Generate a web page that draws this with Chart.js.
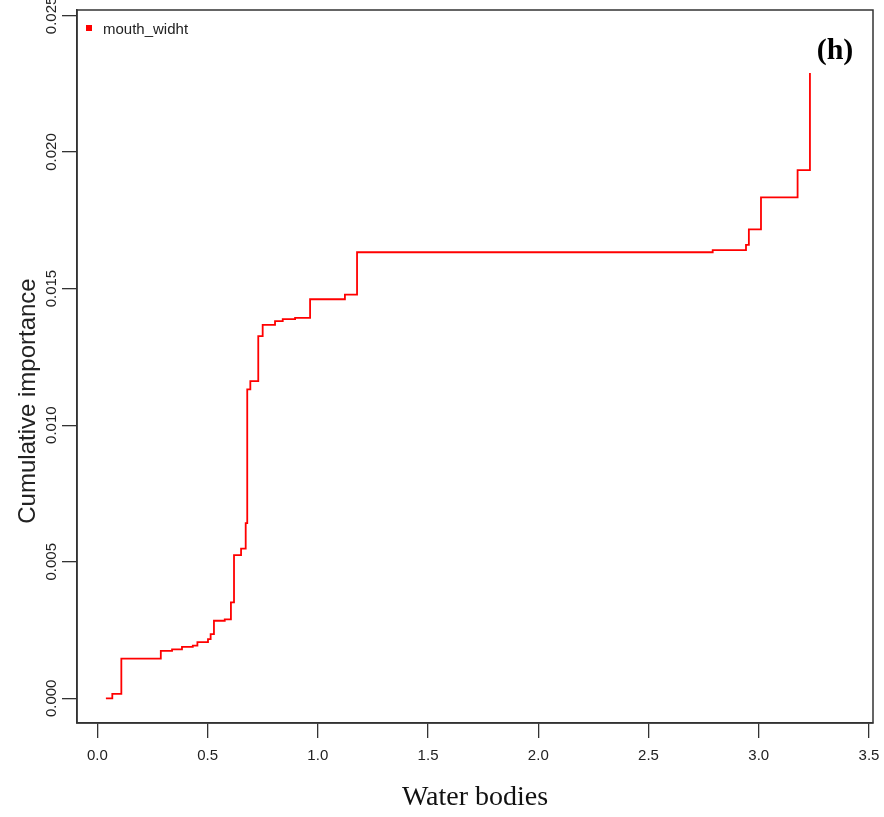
<!DOCTYPE html>
<html>
<head>
<meta charset="utf-8">
<script src="https://cdn.jsdelivr.net/npm/chart.js@4.4.0/dist/chart.umd.min.js"></script>
<style>
  html, body { margin: 0; padding: 0; background: #fff; }
  #wrap { width: 884px; height: 817px; position: relative; }
</style>
</head>
<body>
<div id="wrap"><canvas id="chart"></canvas></div>
<script>
const seriesName = "mouth_widht";
const panelLabel = "(h)";
const xTitle = "Water bodies";
const yTitle = "Cumulative importance";

// step positions (x) and the cumulative level reached there (y)
const waterBodies = [
  0.039, 0.068, 0.109, 0.288, 0.339, 0.384, 0.433, 0.454, 0.502, 0.514, 0.529,
  0.578, 0.606, 0.620, 0.652, 0.673, 0.680, 0.694, 0.730, 0.750, 0.806, 0.841,
  0.897, 0.965, 1.123, 1.178, 2.791, 2.942, 2.955, 3.010, 3.176, 3.232,
];
const cumImportance = [
  0, 0.00016, 0.00145, 0.00174, 0.00179, 0.00188, 0.00193, 0.00206, 0.00217, 0.00235, 0.00284,
  0.00289, 0.00351, 0.00524, 0.00548, 0.00641, 0.01131, 0.01161, 0.01326, 0.01367, 0.01381, 0.01388,
  0.01393, 0.01461, 0.01478, 0.01633, 0.01641, 0.01660, 0.01717, 0.01834, 0.01934, 0.02289,
];
const xTicks = [0, 0.5, 1, 1.5, 2, 2.5, 3, 3.5];
const yTicks = [0, 0.005, 0.01, 0.015, 0.02, 0.025];

const sans = "'Liberation Sans', Arial, sans-serif";
const serif = "'Liberation Serif', 'Times New Roman', serif";
const ink = "#222";
const red = "#ff0000";

// R-style extras: box, rotated y labels, y title, legend, panel letter
const decorations = {
  id: "decorations",
  afterDraw(chart) {
    const { ctx, chartArea: a, scales: { y } } = chart;
    ctx.save();
    ctx.strokeStyle = "#333";
    ctx.lineWidth = 1.5;
    ctx.strokeRect(a.left, a.top, a.right - a.left, a.bottom - a.top);

    ctx.fillStyle = ink;
    ctx.textAlign = "center";
    ctx.textBaseline = "middle";
    ctx.font = `15px ${sans}`;
    for (const v of yTicks) {
      ctx.save();
      ctx.translate(52, y.getPixelForValue(v));
      ctx.rotate(-Math.PI / 2);
      ctx.fillText(v.toFixed(3), 0, 0);
      ctx.restore();
    }

    ctx.save();
    ctx.font = `24px ${sans}`;
    ctx.translate(28, 401);
    ctx.rotate(-Math.PI / 2);
    ctx.fillText(yTitle, 0, 0);
    ctx.restore();

    ctx.fillStyle = red;
    ctx.fillRect(86, 25, 6, 6);
    ctx.fillStyle = ink;
    ctx.textAlign = "left";
    ctx.font = `15px ${sans}`;
    ctx.fillText(seriesName, 103, 30);

    ctx.fillStyle = "#000";
    ctx.textAlign = "center";
    ctx.font = `bold 30px ${serif}`;
    ctx.fillText(panelLabel, 835, 51);
    ctx.restore();
  },
};

const axisGrid = { drawOnChartArea: false, drawTicks: true, tickLength: 15, color: "#333", lineWidth: 1.3 };
const axisBorder = { display: true, color: "#333", width: 1.5 };

new Chart(document.getElementById("chart"), {
  type: "line",
  data: {
    datasets: [
      {
        label: seriesName,
        data: waterBodies.map((x, i) => ({ x, y: cumImportance[i] })),
        borderColor: red,
        backgroundColor: red,
        borderWidth: 1.8,
        pointRadius: 0,
        stepped: "before",
        fill: false,
      },
    ],
  },
  options: {
    responsive: true,
    maintainAspectRatio: false,
    animation: false,
    devicePixelRatio: 1,
    layout: { padding: { top: 10, right: 11, bottom: 0, left: 0 } },
    plugins: { legend: { display: false }, tooltip: { enabled: false } },
    scales: {
      x: {
        type: "linear",
        min: -0.0921,
        max: 3.518,
        afterBuildTicks: (s) => { s.ticks = xTicks.map((value) => ({ value })); },
        afterFit: (s) => { s.height = 94; s.paddingLeft = 0; s.paddingRight = 0; },
        ticks: {
          autoSkip: false,
          maxRotation: 0,
          padding: 9,
          color: ink,
          font: { family: sans, size: 15 },
          callback: (v) => Number(v).toFixed(1),
        },
        grid: axisGrid,
        border: axisBorder,
        title: {
          display: true,
          text: xTitle,
          color: "#111",
          font: { family: serif, size: 28 },
          padding: { top: 0, bottom: 3 },
        },
      },
      y: {
        type: "linear",
        min: -0.000904,
        max: 0.025199,
        afterBuildTicks: (s) => { s.ticks = yTicks.map((value) => ({ value })); },
        afterFit: (s) => { s.width = 77; s.paddingTop = 0; s.paddingBottom = 0; },
        ticks: { display: false },
        grid: axisGrid,
        border: axisBorder,
      },
    },
  },
  plugins: [decorations],
});
</script>
</body>
</html>
